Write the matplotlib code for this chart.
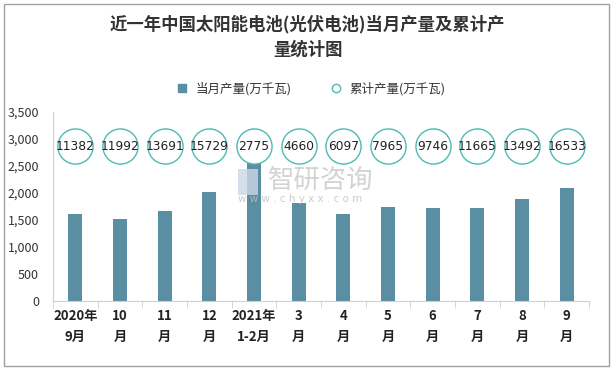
import matplotlib
matplotlib.use("Agg")
import matplotlib.pyplot as plt
from matplotlib.patches import Rectangle
from matplotlib.lines import Line2D

plt.rcParams['font.family'] = ['Noto Sans CJK SC', 'DejaVu Sans']

categories = ["2020年\n9月", "10\n月", "11\n月", "12\n月", "2021年\n1-2月", "3\n月",
              "4\n月", "5\n月", "6\n月", "7\n月", "8\n月", "9\n月"]
monthly = [1620, 1510, 1658, 2027, 2750, 1820, 1602, 1750, 1728, 1728, 1894, 2097]
cumulative = [11382, 11992, 13691, 15729, 2775, 4660, 6097, 7965, 9746, 11665, 13492, 16533]
title = "近一年中国太阳能电池(光伏电池)当月产量及累计产\n量统计图"
series_names = ["当月产量(万千瓦)", "累计产量(万千瓦)"]

bar_color = "#5A8EA2"
circle_color = "#4DBBB3"

fig = plt.figure(figsize=(6.15, 3.69), dpi=100)
fig.patches.append(Rectangle((4/615, 3/369), 605/615, 362/369, transform=fig.transFigure,
                             fill=False, edgecolor="#A0A0A0", linewidth=1.0))

# watermark (behind axes)
fig.patches.append(Rectangle((238/615, 1 - 195/369), 20/615, 26/369, transform=fig.transFigure,
                             facecolor="#CDD6E6", edgecolor="none", alpha=0.8, zorder=0))
fig.text(268/615, 1 - 180/369, "智研咨询", fontsize=19, color="#C8C8C8", ha="left",
         va="center", alpha=0.8, zorder=0)
fig.text(238/615, 1 - 199/369, "w w w . c h y x x . c o m", fontsize=7.5, color="#C0C0C0",
         ha="left", va="center", alpha=0.8, family=['DejaVu Sans'], zorder=0)

ax = fig.add_axes([53/615, 68/369, 536/615, 189/369])
ax.patch.set_alpha(0)
x = list(range(len(categories)))
ax.bar(x, monthly, width=0.31, color=bar_color, zorder=2)

circle_y = 2870
ax.scatter(x, [circle_y]*len(x), s=640, facecolors="white", edgecolors=circle_color,
           linewidths=1.0, zorder=3)
for xi, v in zip(x, cumulative):
    ax.text(xi, circle_y, str(v), ha="center", va="center", fontsize=8.8,
            color="#222222", zorder=4, family=['DejaVu Sans'])

ax.set_xlim(-0.5, len(categories) - 0.5)
ax.set_ylim(0, 3500)
ax.set_yticks(range(0, 3501, 500))
ax.set_yticklabels([f"{v:,}" for v in range(0, 3501, 500)], fontsize=9, color="#333333")
ax.tick_params(axis="y", length=0, pad=10)
ax.set_xticks(x)
ax.set_xticklabels(categories, fontsize=9.5, fontweight="bold", color="#222222", linespacing=1.6)
ax.tick_params(axis="x", length=0, pad=6)
ax.set_xticks([i + 0.5 for i in range(-1, len(categories))], minor=True)
ax.tick_params(axis="x", which="minor", length=5, color="#D0D0D0", direction="out")

for s in ["top", "right"]:
    ax.spines[s].set_visible(False)
ax.spines["left"].set_color("#D0D0D0")
ax.spines["bottom"].set_color("#D0D0D0")

fig.text(0.5, 0.9, title, ha="center", va="center", fontsize=12.5, fontweight="bold",
         color="#333333", linespacing=1.5)

handles = [Line2D([], [], marker="s", linestyle="none", markersize=6,
                  markerfacecolor=bar_color, markeredgecolor=bar_color),
           Line2D([], [], marker="o", linestyle="none", markersize=6,
                  markerfacecolor="white", markeredgecolor=circle_color)]
fig.legend(handles, series_names, loc="center", bbox_to_anchor=(0.5, 0.76), ncol=2,
           frameon=False, fontsize=9, handletextpad=0.1, columnspacing=2.5,
           labelcolor="#333333")

fig.savefig("out.png", dpi=100)
